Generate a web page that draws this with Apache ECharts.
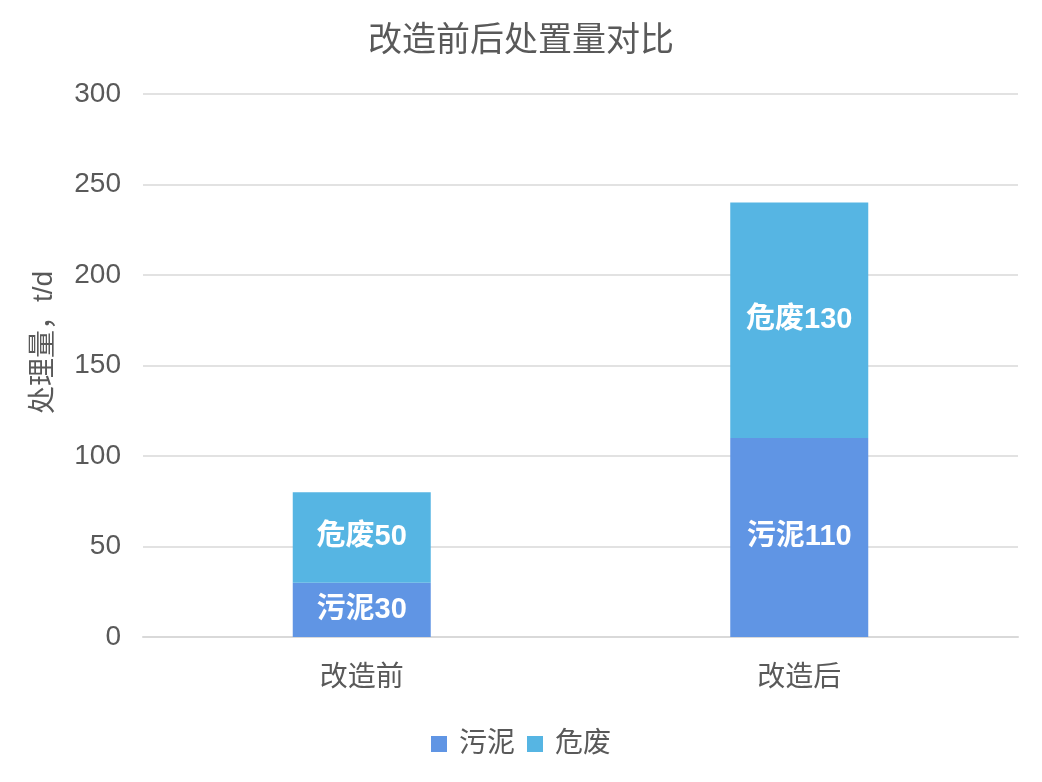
<!DOCTYPE html>
<html>
<head>
<meta charset="utf-8">
<script src="https://cdn.jsdelivr.net/npm/echarts@6/dist/echarts.min.js"></script>
<style>html,body{margin:0;padding:0;background:#fff}#c{width:1042px;height:782px}</style>
</head>
<body>
<div id="c"></div>
<script>
const categories = ['改造前', '改造后'];
const sludge = [30, 110];
const hazardous = [50, 130];
const seriesNames = ['污泥', '危废'];
const yTicks = { min: 0, max: 300, interval: 50 };

const FONT = '"Liberation Sans", "Noto Sans CJK SC", sans-serif';
const chart = echarts.init(document.getElementById('c'));
const labelStyle = {
  show: true, position: 'inside', color: '#ffffff', fontWeight: 'bold',
  fontSize: 29, fontFamily: FONT, formatter: '{a}{c}'
};
chart.setOption({
  animation: false,
  title: {
    text: '改造前后处置量对比', left: 'center', top: 20,
    textStyle: { color: '#595959', fontSize: 34, fontWeight: 'normal', fontFamily: FONT }
  },
  legend: {
    data: seriesNames, bottom: 19, left: 'center', itemWidth: 16, itemHeight: 16, itemGap: 12,
    icon: 'rect',
    textStyle: { color: '#595959', fontSize: 28, fontFamily: FONT, padding: [0, 0, 0, 7] }
  },
  grid: { left: 143, right: 24, top: 94, bottom: 145 },
  xAxis: {
    type: 'category', data: categories,
    axisLine: { lineStyle: { color: '#D9D9D9', width: 2 } },
    axisTick: { show: false },
    axisLabel: { color: '#595959', fontSize: 28, margin: 27, fontFamily: FONT }
  },
  yAxis: {
    type: 'value', min: yTicks.min, max: yTicks.max, interval: yTicks.interval,
    name: '处理量，t/d', nameLocation: 'middle', nameGap: 85, nameRotate: 90,
    nameTextStyle: { color: '#595959', fontSize: 28, fontFamily: FONT, padding: [0, 0, 0, 46] },
    axisLine: { show: false }, axisTick: { show: false },
    axisLabel: { color: '#595959', fontSize: 28, margin: 22, fontFamily: FONT },
    splitLine: { lineStyle: { color: '#D9D9D9', width: 1.5 } }
  },
  series: [
    { name: seriesNames[0], type: 'bar', stack: 'a', data: sludge, barWidth: 138,
      itemStyle: { color: '#6095E4' }, label: labelStyle },
    { name: seriesNames[1], type: 'bar', stack: 'a', data: hazardous, barWidth: 138,
      itemStyle: { color: '#56B5E3' }, label: labelStyle }
  ]
});
</script>
</body>
</html>
